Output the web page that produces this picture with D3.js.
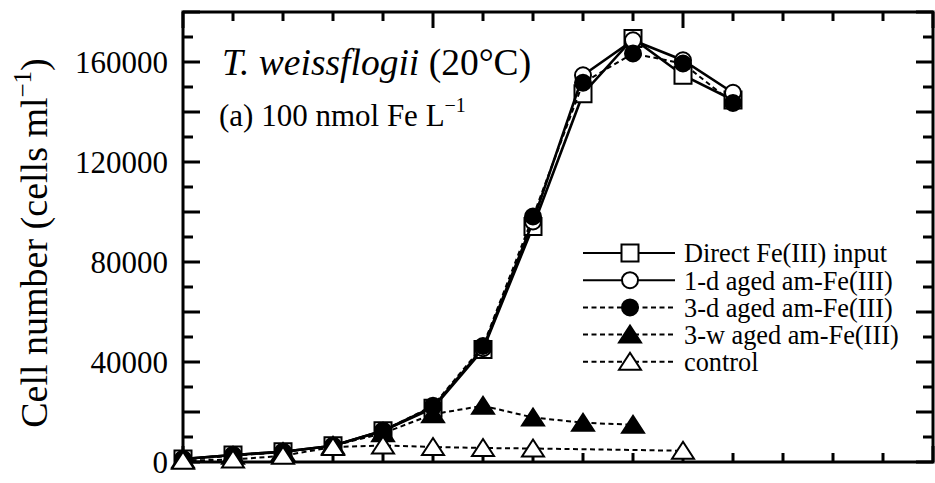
<!DOCTYPE html>
<html>
<head>
<meta charset="utf-8">
<script src="https://cdn.jsdelivr.net/npm/d3@7"></script>
<style>
  body { margin: 0; background: #fff; }
  svg { display: block; }
  text { font-family: "Liberation Serif", "Times New Roman", serif; fill: #000; }
</style>
</head>
<body>
<svg id="chart" width="935" height="483" font-family="Liberation Serif, serif"></svg>
<script>
// ---- data ----
const days = [0, 1, 2, 3, 4, 5, 6, 7, 8, 9, 10, 11];
const directFe = [1200, 2800, 4100, 6500, 12500, 21500, 45000, 94200, 147300, 169400, 154700, 144800];
const oneDayAged = [1200, 2800, 4100, 6500, 12500, 22000, 45500, 96200, 154700, 168700, 160700, 147700];
const threeDayAged = [1200, 2800, 4100, 6500, 12500, 22500, 46400, 98200, 151700, 163400, 159400, 143600];
const threeWeekDays = [0, 1, 2, 3, 4, 5, 6, 7, 8, 9];
const threeWeekAged = [1000, 2500, 4000, 6500, 11500, 19100, 22500, 17800, 15700, 14900];
const controlDays = [0, 1, 2, 3, 4, 5, 6, 7, 10];
const controlVals = [500, 1000, 2500, 6000, 6600, 6000, 5600, 5400, 4500];
const yTickLabels = [0, 40000, 80000, 120000, 160000];
const seriesNames = ["Direct Fe(III) input", "1-d aged am-Fe(III)", "3-d aged am-Fe(III)", "3-w aged am-Fe(III)", "control"];

const series = [
  { name: seriesNames[0], xs: days, ys: directFe, marker: "square", fill: "#fff", dash: null },
  { name: seriesNames[1], xs: days, ys: oneDayAged, marker: "circle", fill: "#fff", dash: null },
  { name: seriesNames[2], xs: days, ys: threeDayAged, marker: "circle", fill: "#000", dash: "5,3.5" },
  { name: seriesNames[3], xs: threeWeekDays, ys: threeWeekAged, marker: "triangle", fill: "#000", dash: "5,3.5" },
  { name: seriesNames[4], xs: controlDays, ys: controlVals, marker: "triangle", fill: "#fff", dash: "5,3.5" }
];

const svg = d3.select("#chart");
const L = 183, R = 933, T = 12, B = 462;
const x = d3.scaleLinear().domain([0, 15]).range([L, R]);
const y = d3.scaleLinear().domain([0, 180000]).range([B, T]);

// ---- axes (ticks inward) ----
const g = svg.append("g");
function tickLine(x1, y1, x2, y2) {
  g.append("line").attr("x1", x1).attr("y1", y1).attr("x2", x2).attr("y2", y2)
    .attr("stroke", "#000").attr("stroke-width", 3);
}
d3.range(0, 16).forEach(d => {
  const len = d % 5 === 0 ? 16 : 9;
  tickLine(x(d), B, x(d), B - len);
  tickLine(x(d), T, x(d), T + len);
});
d3.range(0, 180001, 10000).forEach(v => {
  const len = v % 20000 === 0 ? 17 : 10;
  tickLine(L, y(v), L + len, y(v));
  tickLine(R, y(v), R - len, y(v));
});
g.append("rect").attr("x", L).attr("y", T).attr("width", R - L).attr("height", B - T)
  .attr("fill", "none").attr("stroke", "#000").attr("stroke-width", 3);

// left tick labels via d3 axis
const yAxis = d3.axisLeft(y).tickValues(yTickLabels).tickSize(0).tickPadding(15).tickFormat(d3.format("d"));
const ya = svg.append("g").attr("transform", `translate(${L},0)`).call(yAxis);
ya.attr("font-family", null).attr("font-size", null);
ya.select(".domain").remove();
ya.selectAll("text").style("font-family", '"Liberation Serif", serif').style("font-size", "31px").attr("dy", "0.34em");

// y title
const yt = svg.append("text").attr("transform", `translate(47,${243}) rotate(-90)`)
  .attr("text-anchor", "middle").style("font-size", "38px");
yt.append("tspan").text("Cell number (cells ml");
yt.append("tspan").attr("dy", -16).style("font-size", "25px").text("\u22121");
yt.append("tspan").attr("dy", 16).text(")");

// annotations
const t1 = svg.append("text").attr("x", 222).attr("y", 75).style("font-size", "37.5px");
t1.append("tspan").style("font-style", "italic").text("T. weissflogii");
t1.append("tspan").text(" (20\u00B0C)");
const t2 = svg.append("text").attr("x", 219).attr("y", 126).style("font-size", "31px");
t2.append("tspan").text("(a) 100 nmol Fe L");
t2.append("tspan").attr("dy", -14).style("font-size", "20px").text("\u22121");

// ---- markers ----
function drawMarker(sel, type, cx, cy, fill) {
  if (type === "square") {
    sel.append("rect").attr("x", cx - 8.5).attr("y", cy - 8.5).attr("width", 17).attr("height", 17)
      .attr("fill", fill).attr("stroke", "#000").attr("stroke-width", 2);
  } else if (type === "circle") {
    sel.append("circle").attr("cx", cx).attr("cy", cy).attr("r", 8)
      .attr("fill", fill).attr("stroke", "#000").attr("stroke-width", 2);
  } else {
    sel.append("path").attr("d", `M${cx},${cy - 9}L${cx + 11},${cy + 8}L${cx - 11},${cy + 8}Z`)
      .attr("fill", fill).attr("stroke", "#000").attr("stroke-width", 2).attr("stroke-linejoin", "miter");
  }
}

const line = d3.line().x(d => x(d[0])).y(d => y(d[1]));
series.forEach(s => {
  const pts = s.xs.map((d, i) => [d, s.ys[i]]);
  const sg = svg.append("g");
  sg.append("path").attr("d", line(pts)).attr("fill", "none").attr("stroke", "#000")
    .attr("stroke-width", s.dash ? 2 : 2.6).attr("stroke-dasharray", s.dash);
  pts.forEach(p => drawMarker(sg, s.marker, x(p[0]), y(p[1]), s.fill));
});

// ---- legend ----
const legY0 = 253, legDY = 27.2;
series.forEach((s, i) => {
  const ly = legY0 + i * legDY;
  const lg = svg.append("g");
  lg.append("line").attr("x1", 583).attr("x2", 675).attr("y1", ly).attr("y2", ly)
    .attr("stroke", "#000").attr("stroke-width", 2).attr("stroke-dasharray", s.dash);
  drawMarker(lg, s.marker, 630, ly, s.fill);
  lg.append("text").attr("x", 684).attr("y", ly).attr("dy", "0.36em").style("font-size", "26.3px").text(s.name);
});
</script>
</body>
</html>
